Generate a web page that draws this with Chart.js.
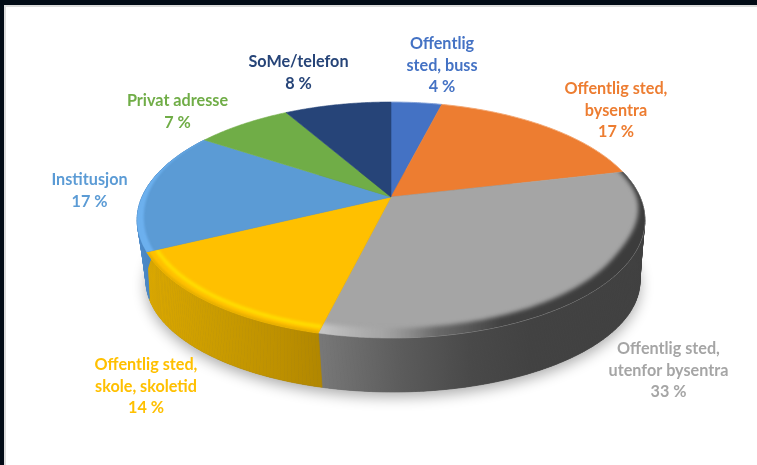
<!DOCTYPE html>
<html><head><meta charset="utf-8">
<style>
html,body{margin:0;padding:0;background:#020b16;overflow:hidden}
#frame{position:absolute;left:4px;top:5px;width:753px;height:460px;background:#fff;box-sizing:border-box;border-left:2px solid #dcdcdc;border-top:2px solid #dcdcdc}
#c{position:absolute;left:0;top:0}
</style>
<script src="https://cdn.jsdelivr.net/npm/chart.js@4"></script>
</head><body>
<div id="frame"></div>
<canvas id="c" width="757" height="465"></canvas>
<script>
const categories = ["Offentlig sted, buss","Offentlig sted, bysentra","Offentlig sted, utenfor bysentra","Offentlig sted, skole, skoletid","Institusjon","Privat adresse","SoMe/telefon"];
const values = [3.9,17.4,32.5,13.9,16.7,7.4,8.2];
const colors = ["#4472C4","#ED7D31","#A5A5A5","#FFC000","#5B9BD5","#70AD47","#264478"];
const labelLines = [["Offentlig","sted, buss"],["Offentlig sted,","bysentra"],["Offentlig sted,","utenfor bysentra"],["Offentlig sted,","skole, skoletid"],["Institusjon"],["Privat adresse"],["SoMe/telefon"]];

// Perspective discs: plane (u,v) on the unit circle → screen
const TOP  = {k:.195, ax:249/197,   by:113.5/197, dx:0, dy:0};
const BASE = {k:.30,  ax:235.6/197, by:101/197,   dx:2, dy:50.7};
const rad=d=>d*Math.PI/180, deg=a=>a*180/Math.PI;
const smooth=(e0,e1,x)=>{const t=Math.min(1,Math.max(0,(x-e0)/(e1-e0)));return t*t*(3-2*t);};
function proj(cx, cy, r, a, f, base){
  const m = base?BASE:TOP;
  if(base) a -= rad(1.5)*Math.max(0,1-Math.abs(deg(a)-100)/50);
  const u = Math.cos(a)*f, v = Math.sin(a)*f, d = 1 - m.k*v;
  return [cx+m.dx+m.ax*r*u/d, cy+m.dy+m.by*r*v/d];
}
function tracePath(ctx, cx, cy, r, a0, a1, f, base, move){
  const n = Math.max(2, Math.ceil(Math.abs(a1-a0)/0.01));
  for(let i=0;i<=n;i++){
    const a=a0+(a1-a0)*i/n;
    const p = proj(cx,cy,r,a,typeof f==='function'?f(a):f,base);
    if(i===0 && move) ctx.moveTo(p[0],p[1]); else ctx.lineTo(p[0],p[1]);
  }
}
const LABEL_POS = [[442,44],[616,89],[668.5,349],[146,365],[89.5,180],[177.5,101],[298.5,62]];
const LINE_STEP = 21.6;
const sideStops = {
  2:[[323,"#777777"],[400,"#5c5c5c"],[470,"#494949"],[530,"#424242"],[650,"#404040"]],
  3:[[145,"#dba800"],[220,"#c99b00"],[280,"#bd9000"],[324,"#b08600"]],
  4:[[135,"#4f8ccb"],[155,"#4583c0"]]
};
const pseudo3d = {
  id:'pseudo3d',
  beforeDatasetDraw(chart){
    const ctx = chart.ctx, arcs = chart.getDatasetMeta(0).data;
    const {x:cx,y:cy,outerRadius:r} = arcs[0];
    const cols = chart.data.datasets[0].backgroundColor;
    ctx.save();
    ctx.shadowColor='rgba(0,0,0,.33)';ctx.shadowBlur=14;ctx.shadowOffsetY=5;
    ctx.beginPath();tracePath(ctx,cx,cy,r,0,Math.PI*2,1,true,true);ctx.closePath();
    ctx.fillStyle='#555';ctx.fill();
    ctx.restore();
    arcs.forEach((arc,i)=>{
      const stops = sideStops[i]; if(!stops) return;
      const g = ctx.createLinearGradient(stops[0][0],0,stops[stops.length-1][0],0);
      const w = stops[stops.length-1][0]-stops[0][0];
      stops.forEach(s=>g.addColorStop((s[0]-stops[0][0])/w,s[1]));
      ctx.fillStyle=g;ctx.strokeStyle=g;ctx.lineWidth=.7;
      const n=Math.ceil((arc.endAngle-arc.startAngle)/.012);
      for(let q=0;q<n;q++){
        const a0=arc.startAngle+(arc.endAngle-arc.startAngle)*q/n, a1=arc.startAngle+(arc.endAngle-arc.startAngle)*(q+1)/n;
        const p=[proj(cx,cy,r,a0,1,false),proj(cx,cy,r,a1,1,false),proj(cx,cy,r,a1,1,true),proj(cx,cy,r,a0,1,true)];
        ctx.beginPath();ctx.moveTo(...p[0]);ctx.lineTo(...p[1]);ctx.lineTo(...p[2]);ctx.lineTo(...p[3]);ctx.closePath();
        ctx.fill();ctx.stroke();
      }
    });
    arcs.forEach((arc,i)=>{
      ctx.save();
      ctx.beginPath();
      ctx.moveTo(cx,cy);
      tracePath(ctx,cx,cy,r,arc.startAngle,arc.endAngle,1,false,false);
      ctx.closePath();
      ctx.fillStyle=cols[i];ctx.fill();
      ctx.strokeStyle=cols[i];ctx.lineWidth=.6;ctx.stroke();
      ctx.clip();
      const band=(inner,col,blur)=>{
        ctx.beginPath();
        tracePath(ctx,cx,cy,r,arc.startAngle-.1,arc.endAngle+.1,1.03,false,true);
        tracePath(ctx,cx,cy,r,arc.endAngle+.1,arc.startAngle-.1,inner,false,false);
        ctx.closePath();ctx.fillStyle=col;ctx.filter=`blur(${blur}px)`;ctx.fill();ctx.filter='none';
      };
      const rim=(f,col,w,blur)=>{
        ctx.beginPath();tracePath(ctx,cx,cy,r,arc.startAngle,arc.endAngle,f,false,true);
        ctx.strokeStyle=col;ctx.lineWidth=w;ctx.filter=blur?`blur(${blur}px)`:'none';ctx.stroke();ctx.filter='none';
      };
      if(i===3){rim(.962,'#ffe000',3.5,1.4);rim(1,'#e6ae00',4,.8);}
      if(i===4){band(a=>1-.026*(1-smooth(165,215,deg(a))),'#6cb0ee',1);}
      if(i===2){
        const g=ctx.createLinearGradient(323,0,620,0);
        g.addColorStop(0,'rgba(200,200,200,.9)');
        g.addColorStop(.2,'rgba(165,165,165,.6)');
        g.addColorStop(.38,'rgba(95,95,95,.85)');
        g.addColorStop(.6,'rgba(66,66,66,1)');
        g.addColorStop(1,'rgba(60,60,60,1)');
        band(a=>1-(.012+.045*smooth(-5,32,deg(a))),g,2.2);
      }
      if(i===1||i===0){rim(1,'rgba(255,255,255,.35)',1,0);}
      ctx.restore();
    });
    return false;
  },
  afterDatasetsDraw(chart){
    const ctx = chart.ctx, vals = chart.data.datasets[0].data;
    const cs = chart.data.datasets[0].backgroundColor;
    ctx.save();
    ctx.font='bold 16.2px Lato, "Open Sans", sans-serif';
    ctx.textAlign='center';ctx.textBaseline='middle';
    chart.data.labels.forEach((_,i)=>{
      ctx.fillStyle=cs[i];
      [...labelLines[i],Math.round(vals[i])+' %'].forEach((t,j)=>ctx.fillText(t,LABEL_POS[i][0],LABEL_POS[i][1]+j*LINE_STEP));
    });
    ctx.restore();
  }
};
new Chart(document.getElementById('c'),{
  type:'pie',
  data:{labels:categories,datasets:[{data:values,backgroundColor:colors,borderWidth:0}]},
  options:{responsive:false,animation:false,events:[],
    layout:{padding:{left:25,bottom:71,top:0,right:0}},
    plugins:{legend:{display:false},tooltip:{enabled:false}}},
  plugins:[pseudo3d]
});
</script>
</body></html>
